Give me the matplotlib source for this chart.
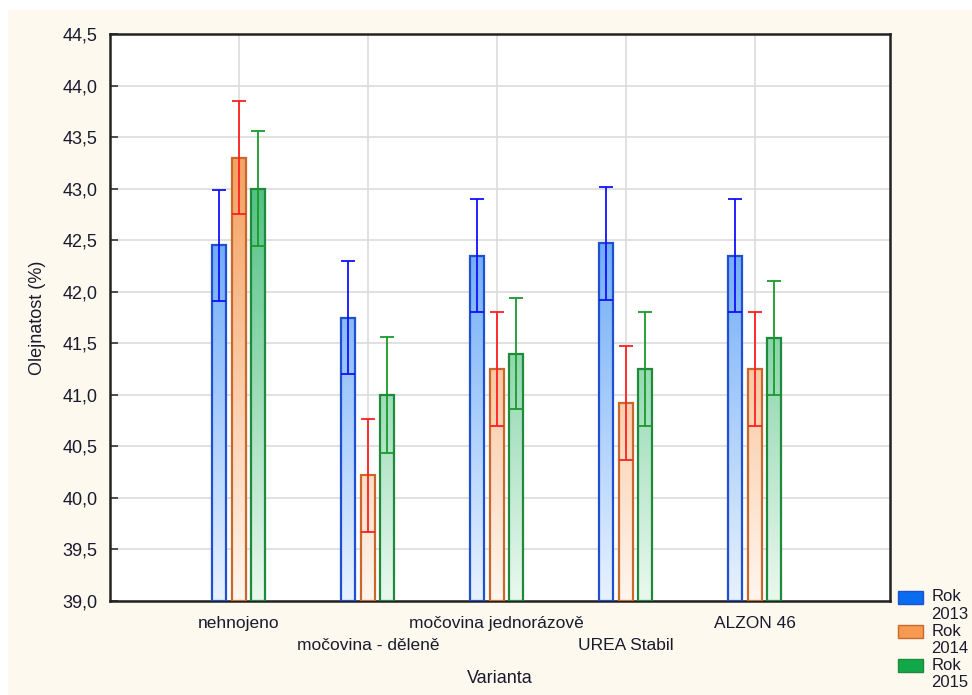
import numpy as np
import matplotlib.pyplot as plt
from matplotlib.patches import Rectangle
from matplotlib.colors import LinearSegmentedColormap
from matplotlib.legend_handler import HandlerPatch

# Olejnatost podle varianty hnojení a roku
varianty = ["nehnojeno", "močovina - děleně", "močovina jednorázově", "UREA Stabil", "ALZON 46"]
roky = ["Rok\n2013", "Rok\n2014", "Rok\n2015"]

prumer_2013 = [42.45, 41.75, 42.35, 42.47, 42.35]
prumer_2014 = [43.30, 40.22, 41.25, 40.92, 41.25]
prumer_2015 = [43.00, 41.00, 41.40, 41.25, 41.55]

chyba_2013 = [0.54, 0.55, 0.55, 0.55, 0.55]
chyba_2014 = [0.55, 0.55, 0.55, 0.55, 0.55]
chyba_2015 = [0.56, 0.56, 0.54, 0.55, 0.55]

prumery = [prumer_2013, prumer_2014, prumer_2015]
chyby = [chyba_2013, chyba_2014, chyba_2015]

# barvy: horní tón, spodní tón, okraj, chybová úsečka, legenda
styly = [
    ("#5aa0f5", "#e8f2ff", "#2050d0", "#1010ff", "#0a6cf0"),
    ("#f5a466", "#fff6ee", "#c8682a", "#ff2020", "#f59a50"),
    ("#4ec080", "#eaf8ef", "#1f8a3c", "#1a9a2a", "#12a84a"),
]

y_min, y_max = 39.0, 44.5
sirka = 0.108
posun = 0.151
pismo = "Liberation Sans"

fig = plt.figure(figsize=(9.72, 6.95), dpi=100, facecolor="white")
fig.patches.append(Rectangle((8 / 972, 0), 1, 1 - 10 / 695, transform=fig.transFigure,
                             facecolor="#fdf9ee", edgecolor="none", zorder=-10))
ax = fig.add_axes([110 / 972, 1 - 601 / 695, 780 / 972, 567 / 695])
ax.set_facecolor("white")

x = np.arange(len(varianty))
grad = np.linspace(0, 1, 256).reshape(-1, 1)

for k, (hodnoty, err, styl) in enumerate(zip(prumery, chyby, styly)):
    top_c, bot_c, edge_c, err_c, _ = styl
    cmap = LinearSegmentedColormap.from_list("g%d" % k, [bot_c, top_c])
    for i, h in enumerate(hodnoty):
        x0 = x[i] + (k - 1) * posun - sirka / 2
        # barevný přechod podle výšky v rámci osy
        frac = (h - y_min) / (y_max - y_min)
        img = grad * frac
        im = ax.imshow(img, cmap=cmap, vmin=0, vmax=0.75, origin="lower", aspect="auto",
                       extent=(x0, x0 + sirka, y_min, h), zorder=2, interpolation="bilinear")
        rect = Rectangle((x0, y_min), sirka, h - y_min, facecolor="none",
                         edgecolor=edge_c, linewidth=1.6, zorder=3)
        ax.add_patch(rect)
        im.set_clip_path(rect)
    ax.errorbar(x + (k - 1) * posun, hodnoty, yerr=err, fmt="none", ecolor=err_c,
                elinewidth=1.3, capsize=5, capthick=1.3, zorder=4)

ax.set_xlim(-1.0, 5.05)
ax.set_ylim(y_min, y_max)
ax.set_yticks(np.arange(39.0, 44.51, 0.5))
ax.set_yticklabels([("%.1f" % v).replace(".", ",") for v in np.arange(39.0, 44.51, 0.5)],
                   fontfamily=pismo)

# popisky ve dvou řadách: sudé nahoře (hlavní ticky), liché dole (vedlejší ticky)
ax.set_xticks(x[0::2])
ax.set_xticklabels(varianty[0::2], fontfamily=pismo)
ax.set_xticks(x[1::2], minor=True)
ax.set_xticklabels(varianty[1::2], minor=True, fontfamily=pismo)
ax.grid(True, which="both", color="#dcdcdc", linewidth=1.2, zorder=0)
ax.set_axisbelow(True)

txt = "#1a1a2e"
ax.tick_params(axis="both", which="both", direction="in", length=6, width=1.2,
               colors="#333333", labelcolor=txt)
ax.tick_params(axis="x", which="major", pad=11, labelsize=12.5)
ax.tick_params(axis="x", which="minor", pad=27, labelsize=12.5)
ax.tick_params(axis="y", pad=9, labelsize=13)
for s in ax.spines.values():
    s.set_linewidth(1.8)
    s.set_color("#222222")

ax.set_ylabel("Olejnatost (%)", fontsize=13, color=txt, labelpad=12, fontfamily=pismo)
ax.set_xlabel("Varianta", fontsize=13, color=txt, labelpad=12, fontfamily=pismo)


# čtvereček v legendě zarovnaný k prvnímu řádku popisku
def ctverec(legend, orig_handle, xdescent, ydescent, width, height, fontsize):
    return Rectangle((-xdescent, -ydescent + 0.5 * fontsize), width, height)


handles = [Rectangle((0, 0), 1, 1, facecolor=s[4], edgecolor=s[2]) for s in styly]
leg = fig.legend(handles, roky, loc="lower left", bbox_to_anchor=(893 / 972, 0.0),
                 frameon=False, prop={"family": pismo, "size": 12}, handlelength=1.5,
                 handleheight=0.85, handletextpad=0.5, labelspacing=0.1, borderpad=0.1,
                 borderaxespad=0.2, labelcolor=txt,
                 handler_map={Rectangle: HandlerPatch(patch_func=ctverec)})

fig.savefig("out.png", dpi=100, facecolor=fig.get_facecolor())
